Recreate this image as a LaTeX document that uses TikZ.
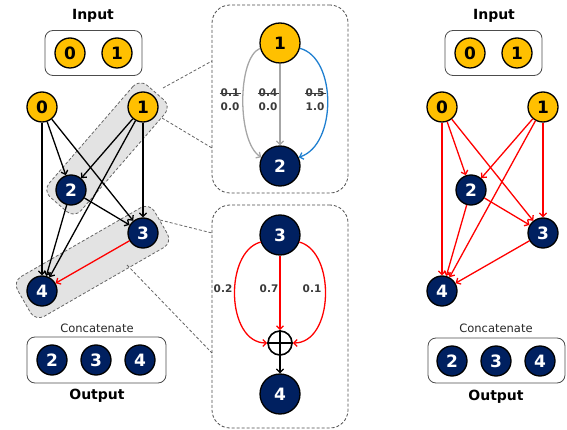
\documentclass[tikz,border=0pt]{standalone}
\usepackage{fontspec}
\setmainfont{DejaVu Sans}
\usetikzlibrary{arrows.meta,calc,backgrounds}
\definecolor{gold}{HTML}{FFC000}
\definecolor{navy}{HTML}{002060}
\definecolor{arcgray}{HTML}{A6A6A6}
\definecolor{arcblue}{HTML}{1F7FD0}
\definecolor{lbl}{HTML}{3A3A3A}
\begin{document}
\begin{tikzpicture}[x=1pt,y=-1pt,
 nd/.style={circle,draw=black,line width=1.3pt,minimum size=30pt,inner sep=0pt,font=\fontsize{17}{17}\selectfont\bfseries},
 yel/.style={nd,fill=gold,text=black},
 blu/.style={nd,fill=navy,text=white},
 big/.style={minimum size=40pt},
 ed/.style={line width=1.3pt,-{Straight Barb[length=3.5pt,width=7pt]}},
 box/.style={draw=black!70,rounded corners=8pt,line width=0.8pt},
 zbox/.style={draw=black!70,dash pattern=on 3pt off 2pt,rounded corners=18pt,line width=0.8pt},
 hl/.style={draw=black!60,dash pattern=on 3pt off 2pt,fill=black!11,rounded corners=10pt,line width=0.8pt,inner sep=0pt},
 ttl/.style={font=\fontsize{14}{14}\selectfont\bfseries},
 cat/.style={font=\fontsize{11.5}{11.5}\selectfont,text=black!85},
 wl/.style={font=\fontsize{10.5}{10.5}\selectfont\bfseries,text=lbl,inner sep=1pt},
 strk/.style={lbl,line width=0.8pt},
 link/.style={draw=black!60,dash pattern=on 3pt off 2pt,line width=0.8pt}
]
\useasboundingbox (0,0) rectangle (567,430);

% ---------- left panel ----------
\node[ttl] (tinL) at (93,16) {Input};
\node[box,minimum width=97pt,minimum height=45pt] (ibL) at (93.5,53) {};
\node[yel] (iL0) at (70,53) {0};
\node[yel] (iL1) at (117,53) {1};

\node[yel] (L0) at (42,107) {0};
\node[yel] (L1) at (143,107) {1};
\node[blu] (L2) at (71,190) {2};
\node[blu] (L3) at (143,233) {3};
\node[blu] (L4) at (42,291) {4};

\draw[ed] (L0) -- (L2);
\draw[ed] (L0) -- (L3);
\draw[ed] (L0) -- (L4);
\draw[ed] (L1) -- (L2);
\draw[ed] (L1) -- (L3);
\draw[ed] (L1) -- (L4);
\draw[ed] (L2) -- (L3);
\draw[ed] (L2) -- (L4);
\draw[ed,red] (L3) -- (L4);

\node[cat] (catL) at (97,328) {Concatenate};
\node[box,minimum width=139pt,minimum height=46pt] (obL) at (96.5,360) {};
\node[blu] (oL2) at (52,360) {2};
\node[blu] (oL3) at (96,360) {3};
\node[blu] (oL4) at (140,360) {4};
\node[ttl] (toL) at (97,396) {Output};

% ---------- middle zoom boxes ----------
\node[zbox,minimum width=136pt,minimum height=188pt] (zb1) at (280,99) {};
\node[zbox,minimum width=136pt,minimum height=223pt] (zb2) at (280,316.5) {};

\node[yel,big] (M1) at (280,43) {1};
\node[blu,big] (M2) at (280,166) {2};
\draw[ed,arcgray] (M1.195) .. controls (237,58) and (237,142) .. (M2.155);
\draw[ed,arcgray] (M1) -- (M2);
\draw[ed,arcblue] (M1.345) .. controls (337,58) and (337,145) .. (M2.25);

\node[wl] (a1) at (230,93) {0.1};
\node[wl] (b1) at (230,107) {0.0};
\node[wl] (a2) at (268,93) {0.4};
\node[wl] (b2) at (268,107) {0.0};
\node[wl] (a3) at (315,93) {0.5};
\node[wl] (b3) at (315,107) {1.0};
\draw[strk] (a1.west) -- (a1.east);
\draw[strk] (a2.west) -- (a2.east);
\draw[strk] (a3.west) -- (a3.east);

\node[blu,big] (M3) at (280,235) {3};
\node[circle,draw=black,line width=1.6pt,minimum size=24pt,inner sep=0pt] (OP) at (280,343) {};
\draw[line width=1.6pt] (OP.north) -- (OP.south) (OP.west) -- (OP.east);
\node[blu,big] (M4) at (280,394) {4};
\draw[ed,red] (M3.200) .. controls (224,252) and (226,343) .. (OP.west);
\draw[ed,red] (M3) -- (OP);
\draw[ed,red] (M3.340) .. controls (336,252) and (334,343) .. (OP.east);
\draw[ed,black] (OP) -- (M4);

\node[wl] (c1) at (223,289) {0.2};
\node[wl] (c2) at (269,289) {0.7};
\node[wl] (c3) at (312,289) {0.1};

% ---------- right panel ----------
\node[ttl] (tinR) at (494,16) {Input};
\node[box,minimum width=97pt,minimum height=45pt] (ibR) at (493.5,53) {};
\node[yel] (iR0) at (470,53) {0};
\node[yel] (iR1) at (517,53) {1};

\node[yel] (R0) at (442,107) {0};
\node[yel] (R1) at (543,107) {1};
\node[blu] (R2) at (471,190) {2};
\node[blu] (R3) at (543,233) {3};
\node[blu] (R4) at (442,291) {4};

\draw[ed,red] (R0) -- (R2);
\draw[ed,red] (R0) -- (R3);
\draw[ed,red] (R0) -- (R4);
\draw[ed,red] (R1) -- (R2);
\draw[ed,red] (R1) -- (R3);
\draw[ed,red] (R1) -- (R4);
\draw[ed,red] (R2) -- (R3);
\draw[ed,red] (R2) -- (R4);
\draw[ed,red] (R3) -- (R4);

\node[cat] (catR) at (496,328) {Concatenate};
\node[box,minimum width=137pt,minimum height=45pt] (obR) at (496.5,360.5) {};
\node[blu] (oR2) at (452,361) {2};
\node[blu] (oR3) at (496,361) {3};
\node[blu] (oR4) at (540,361) {4};
\node[ttl] (toR) at (496,397) {Output};

% ---------- background highlights and links ----------
\begin{scope}[on background layer]
\node[hl,minimum width=148pt,minimum height=42pt,rotate=49.1] (h1) at ($(L1)!0.5!(L2)$) {};
\node[hl,minimum width=158pt,minimum height=46pt,rotate=29.9] (h2) at ($(L3)!0.5!(L4)$) {};
\coordinate (p1) at (163,88);
\coordinate (q1) at (212,61);
\coordinate (p2) at (162,118);
\coordinate (q2) at (212,148);
\coordinate (p3) at (160,220);
\coordinate (q3) at (212,233);
\coordinate (p4) at (127,265);
\coordinate (q4) at (212,353);
\draw[link] (p1) -- (q1);
\draw[link] (p2) -- (q2);
\draw[link] (p3) -- (q3);
\draw[link] (p4) -- (q4);
\end{scope}
\end{tikzpicture}
\end{document}
